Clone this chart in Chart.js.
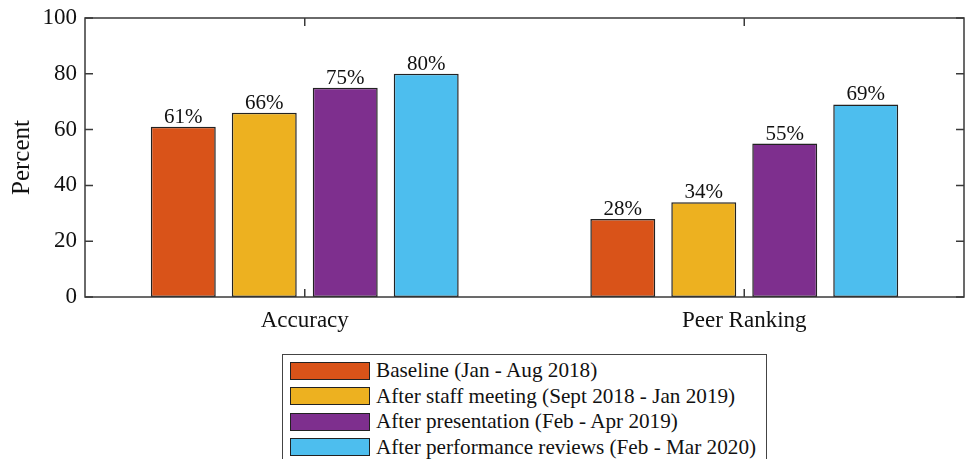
<!DOCTYPE html>
<html>
<head>
<meta charset="utf-8">
<script src="https://cdn.jsdelivr.net/npm/chart.js@4.4.1/dist/chart.umd.min.js"></script>
<style>
  html, body { margin: 0; padding: 0; background: #fff; width: 967px; height: 459px; overflow: hidden; }
  #wrap { position: absolute; left: 0; top: 0; width: 967px; height: 340px; }
  #legend { position: absolute; left: 282px; top: 354px; width: 485px; height: 130px;
            border: 1px solid #444; background: #fff; box-sizing: border-box;
            font-family: "Liberation Serif", "Times New Roman", serif; font-size: 21.2px; color: #111; }
  .row { position: absolute; left: 7px; height: 19px; display: flex; align-items: center; white-space: nowrap; }
  .sw { width: 78px; height: 16px; border: 1.5px solid #222; margin-right: 6px; flex: none; }
</style>
</head>
<body>
<div id="wrap"><canvas id="c"></canvas></div>
<div id="legend"></div>
<script>
const categories = ["Accuracy", "Peer Ranking"];
const seriesNames = [
  "Baseline (Jan - Aug 2018)",
  "After staff meeting (Sept 2018 - Jan 2019)",
  "After presentation (Feb - Apr 2019)",
  "After performance reviews (Feb - Mar 2020)"
];
const baseline = [61, 28];
const staffMeeting = [66, 34];
const presentation = [75, 55];
const perfReviews = [80, 69];
const yTicks = [0, 20, 40, 60, 80, 100];
const colors = ["#D95319", "#EDB120", "#7E2F8E", "#4DBEEE"];

const seriesValues = [baseline, staffMeeting, presentation, perfReviews];
const FONT = '"Liberation Serif", "Times New Roman", serif';
const AX = '#3a3a3a';

const labelPlugin = {
  id: 'valueLabels',
  afterDatasetsDraw(chart) {
    const ctx = chart.ctx;
    ctx.save();
    ctx.font = '21px ' + FONT;
    ctx.fillStyle = '#111';
    ctx.textAlign = 'center';
    ctx.textBaseline = 'alphabetic';
    chart.data.datasets.forEach((ds, i) => {
      const meta = chart.getDatasetMeta(i);
      meta.data.forEach((el, j) => {
        ctx.fillText(ds.data[j] + '%', el.x, el.y - 4);
      });
    });
    ctx.restore();
  }
};

const boxPlugin = {
  id: 'matlabBox',
  afterDraw(chart) {
    const ctx = chart.ctx;
    const a = chart.chartArea;
    const ys = chart.scales.y, xs = chart.scales.x;
    ctx.save();
    ctx.strokeStyle = AX;
    ctx.lineWidth = 1.5;
    ctx.strokeRect(a.left, a.top, a.right - a.left, a.bottom - a.top);
    ctx.beginPath();
    yTicks.forEach(v => {
      const y = ys.getPixelForValue(v);
      ctx.moveTo(a.left, y); ctx.lineTo(a.left + 8, y);
      ctx.moveTo(a.right, y); ctx.lineTo(a.right - 8, y);
    });
    categories.forEach((c, i) => {
      const x = xs.getPixelForValue(i);
      ctx.moveTo(x, a.bottom); ctx.lineTo(x, a.bottom - 8);
      ctx.moveTo(x, a.top); ctx.lineTo(x, a.top + 8);
    });
    ctx.stroke();
    ctx.restore();
  }
};

new Chart(document.getElementById('c'), {
  type: 'bar',
  data: {
    labels: categories,
    datasets: seriesNames.map((n, i) => ({
      label: n,
      data: seriesValues[i],
      backgroundColor: colors[i],
      borderColor: '#222',
      borderWidth: 1.5,
      borderSkipped: false,
      categoryPercentage: 0.737,
      barPercentage: 0.802
    }))
  },
  options: {
    responsive: true,
    maintainAspectRatio: false,
    animation: false,
    layout: { padding: { top: 18, right: 3, left: 0, bottom: 0 } },
    plugins: { legend: { display: false }, tooltip: { enabled: false } },
    scales: {
      x: {
        grid: { display: false, drawTicks: false },
        border: { display: false },
        ticks: { font: { family: FONT, size: 23 }, color: '#111', padding: 10 },
        afterFit: s => { s.height = 43; s.paddingLeft = 0; s.paddingRight = 0; }
      },
      y: {
        min: 0, max: 100,
        afterBuildTicks: s => { s.ticks = yTicks.map(v => ({ value: v })); },
        grid: { display: false, drawTicks: false },
        border: { display: false },
        ticks: { font: { family: FONT, size: 23 }, color: '#111', padding: 8 },
        title: { display: true, text: 'Percent', font: { family: FONT, size: 25 }, color: '#111', padding: { top: 7, bottom: 0 } },
        afterFit: s => { s.width = 85; s.paddingTop = 0; s.paddingBottom = 0; }
      }
    }
  },
  plugins: [labelPlugin, boxPlugin]
});

const legend = document.getElementById('legend');
seriesNames.forEach((n, i) => {
  const row = document.createElement('div');
  row.className = 'row';
  row.style.top = (6 + i * 25.5) + 'px';
  const sw = document.createElement('span');
  sw.className = 'sw';
  sw.style.background = colors[i];
  const tx = document.createElement('span');
  tx.textContent = n;
  row.appendChild(sw); row.appendChild(tx);
  legend.appendChild(row);
});
</script>
</body>
</html>
